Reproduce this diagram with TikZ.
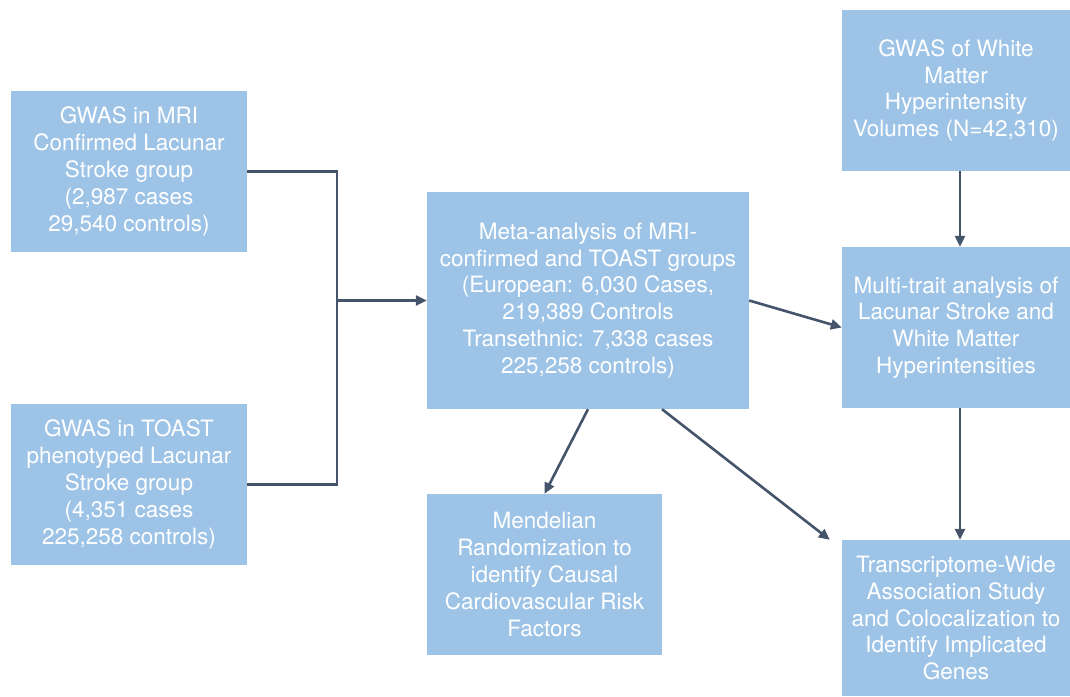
\documentclass[tikz,border=0pt]{standalone}
\usepackage{fontspec}
\setmainfont{TeX Gyre Heros}
\usetikzlibrary{arrows.meta}
\definecolor{boxfill}{HTML}{9DC3E6}
\definecolor{linec}{HTML}{44546A}
\begin{document}
\begin{tikzpicture}[x=1pt,y=-1pt,
  box/.style={fill=boxfill, draw=none, text=white, align=center, inner sep=0pt,
    font=\fontsize{22.5}{26.8}\selectfont},
  conn/.style={draw=linec, line width=2.6pt},
  arr/.style={conn, -{Triangle[length=11pt,width=10pt]}}]
\useasboundingbox (0,0) rectangle (1070,696);
\node[box, minimum width=236pt, minimum height=161pt] (A) at (129,171.5)
  {GWAS in MRI\\Confirmed Lacunar\\Stroke group\\(2,987 cases\\29,540 controls)};
\node[box, minimum width=236pt, minimum height=161pt] (B) at (129,484.5)
  {GWAS in TOAST\\phenotyped Lacunar\\Stroke group\\(4,351 cases\\225,258 controls)};
\node[box, minimum width=322pt, minimum height=217pt] (C) at (588,300.5)
  {Meta-analysis of MRI-\\confirmed and TOAST groups\\(European: 6,030 Cases,\\219,389 Controls\\Transethnic: 7,338 cases\\225,258 controls)};
\node[box, minimum width=228pt, minimum height=161pt] (D) at (956,90.5)
  {GWAS of White\\Matter\\Hyperintensity\\Volumes (N=42,310)};
\node[box, minimum width=228pt, minimum height=161pt] (E) at (956,327.5)
  {Multi-trait analysis of\\Lacunar Stroke and\\White Matter\\Hyperintensities};
\node[box, minimum width=235pt, minimum height=161pt] (F) at (544.5,574.5)
  {Mendelian\\Randomization to\\identify Causal\\Cardiovascular Risk\\Factors};
\node[box, minimum width=228pt, minimum height=156pt] (G) at (956,618)
  {Transcriptome-Wide\\Association Study\\and Colocalization to\\Identify Implicated\\Genes};
\coordinate (J) at (337,300.5);
\draw[conn] (A.east) -| (J);
\draw[conn] (B.east) -| (J);
\draw[arr] (J) -- (C.west);
\draw[arr] (C.east) -- (E.west);
\draw[arr] (C.south) -- (F.north);
\draw[arr] ([xshift=74pt]C.south) -- ([xshift=-12pt]G.north west);
\draw[arr] (D.south -| 960,0) -- (E.north -| 960,0);
\draw[arr] (E.south -| 960,0) -- (G.north -| 960,0);
\end{tikzpicture}
\end{document}
